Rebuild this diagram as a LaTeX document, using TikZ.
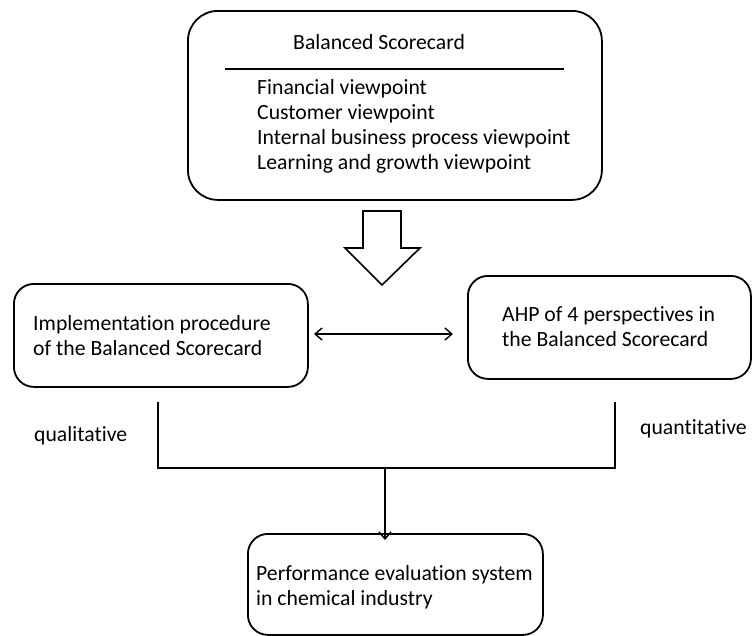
\documentclass[tikz,border=0pt]{standalone}
\usepackage{fontspec}
\setmainfont{Carlito}[RawFeature={-liga}]
\usetikzlibrary{arrows.meta}
\begin{document}
\begin{tikzpicture}[x=1pt,y=-1pt,
  box/.style={draw=black,line width=1.8pt,rounded corners=#1,inner sep=0pt,anchor=north west},
  box/.default=20pt,
  txt/.style={anchor=base west,inner sep=0pt,font=\fontsize{21.7}{25}\selectfont},
  conn/.style={line width=1.4pt},
  tip/.style={-{Straight Barb[length=7pt,width=12pt,line width=1.4pt]}},
  dtip/.style={{Straight Barb[length=7pt,width=12pt,line width=1.4pt]}-{Straight Barb[length=7pt,width=12pt,line width=1.4pt]}},
  bigarrow/.style={draw=black,line width=1.6pt,fill=white,line join=miter}
]
\useasboundingbox (0,0) rectangle (752,635);
% top box
\node[box=30pt,minimum width=414pt,minimum height=189pt] (bsc) at (187,10) {};
\node[txt] (bsct) at (293,49) {Balanced Scorecard};
\coordinate (rl) at (225,69);
\coordinate (rr) at (564,69);
\draw[conn] (rl) -- (rr);
\node[txt] (v1) at (257,94.5) {Financial viewpoint};
\node[txt] (v2) at (257,119.5) {Customer viewpoint};
\node[txt] (v3) at (257,144.5) {Internal business process viewpoint};
\node[txt] (v4) at (257,169.5) {Learning and growth viewpoint};
% big arrow
\draw[bigarrow] (363,211) -- (401,211) -- (401,248) -- (420,248) -- (382,285) -- (345,248) -- (363,248) -- cycle;
% left box
\node[box,minimum width=294pt,minimum height=103pt] (impl) at (13,283) {};
\node[txt] (implt1) at (33,330) {Implementation procedure};
\node[txt] (implt2) at (33,355) {of the Balanced Scorecard};
% right box
\node[box,minimum width=283pt,minimum height=103pt] (ahp) at (467,275) {};
\node[txt] (ahpt1) at (502,321) {AHP of 4 perspectives in};
\node[txt] (ahpt2) at (502,346) {the Balanced Scorecard};
% double arrow
\coordinate (da) at (314,334);
\coordinate (db) at (453,334);
\draw[conn,dtip] (da) -- (db);
% bracket lines
\coordinate (lt) at (158,402);
\coordinate (lb) at (158,468);
\coordinate (rt) at (615,402);
\coordinate (rb) at (615,468);
\coordinate (mid) at (385,468);
\draw[conn] (lt) -- (lb) -- (rb) -- (rt);
% labels
\node[txt] (qual) at (34,441) {qualitative};
\node[txt] (quan) at (640,434) {quantitative};
% bottom box
\node[box,minimum width=295pt,minimum height=101pt] (perf) at (247,533) {};
\node[txt] (perft1) at (256,580) {Performance evaluation system};
\node[txt] (perft2) at (256,605) {in chemical industry};
\draw[conn,tip] (mid) -- ([yshift=-7pt]perf.north -| mid);
\end{tikzpicture}
\end{document}
